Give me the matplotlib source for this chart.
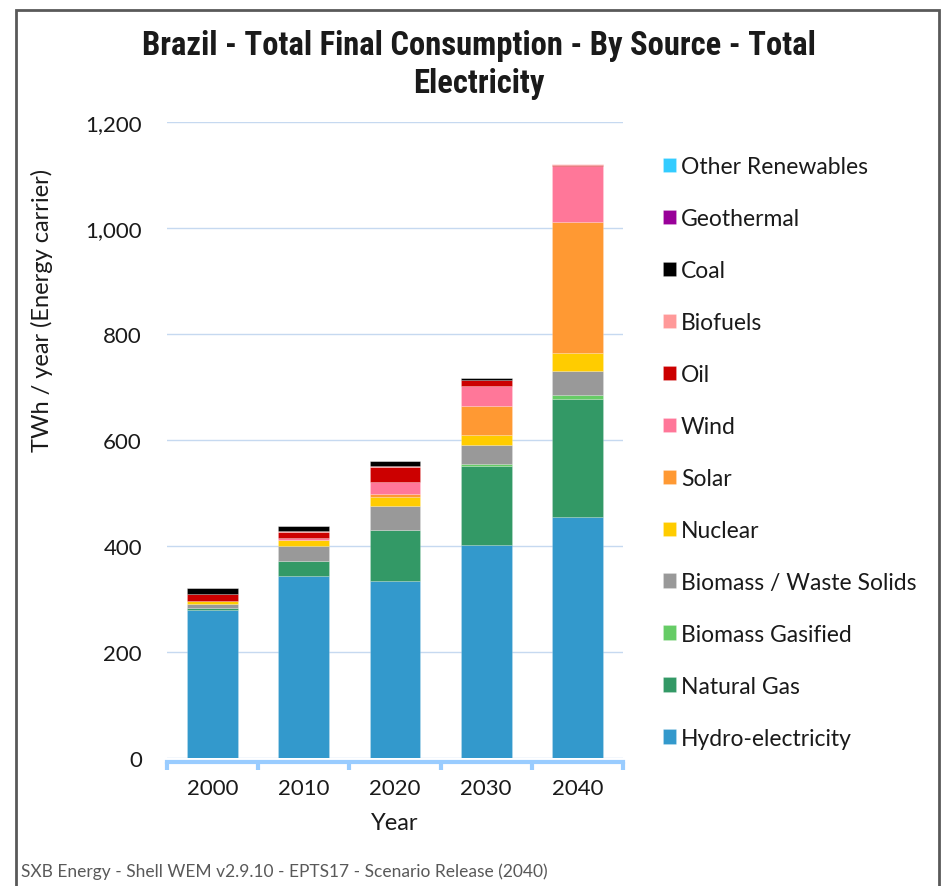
import matplotlib
matplotlib.use('Agg')
import matplotlib.pyplot as plt
from matplotlib.patches import Rectangle
from matplotlib.ticker import FuncFormatter, FixedLocator
import numpy as np

years = ['2000', '2010', '2020', '2030', '2040']

# TWh / year, stacked bottom to top
hydro = [280, 343, 334, 403, 455]
natural_gas = [3, 29, 96, 148, 222]
biomass_gasified = [0.5, 0.5, 1, 4.5, 7.5]
biomass_solids = [7, 27, 45, 35, 46]
nuclear = [6, 12.5, 17, 20, 33]
solar = [0, 0, 4.5, 54.5, 248]
wind = [0, 3, 23, 37.5, 105]
oil = [12.5, 12.5, 29.5, 11, 3]
biofuels = [0.5, 0.5, 0.5, 0.5, 0.5]
coal = [11, 9.5, 11, 4, 0.5]
geothermal = [0, 0, 0, 0, 0]
other_renewables = [0, 0, 0, 0, 0]

series = [
    ('Hydro-electricity', hydro, '#3399cc'),
    ('Natural Gas', natural_gas, '#339966'),
    ('Biomass Gasified', biomass_gasified, '#66cc66'),
    ('Biomass / Waste Solids', biomass_solids, '#999999'),
    ('Nuclear', nuclear, '#ffcc00'),
    ('Solar', solar, '#ff9933'),
    ('Wind', wind, '#ff7799'),
    ('Oil', oil, '#cc0000'),
    ('Biofuels', biofuels, '#ff9999'),
    ('Coal', coal, '#000000'),
    ('Geothermal', geothermal, '#990099'),
    ('Other Renewables', other_renewables, '#33ccff'),
]

plt.rcParams['font.family'] = ['Lato', 'DejaVu Sans']
text_col = '#1a1a1a'

fig = plt.figure(figsize=(9.51, 8.87), dpi=100)
fig.patch.set_facecolor('white')
ax = fig.add_axes([0.1756, 0.1440, 0.4795, 0.7173])

x = np.arange(len(years))
bottom = np.zeros(len(years))
handles = []
for name, vals, col in series:
    vals = np.array(vals, dtype=float)
    b = ax.bar(x, vals, width=0.556, bottom=bottom, color=col,
               edgecolor=(1, 1, 1, 0.25), linewidth=0.5, label=name, zorder=3)
    handles.append(b)
    bottom += vals

ax.set_xlim(-0.5, len(years) - 0.5)
ax.set_ylim(0, 1200)

# gridlines and axis styling
ax.yaxis.set_major_locator(FixedLocator(range(0, 1201, 200)))
ax.yaxis.set_major_formatter(FuncFormatter(lambda v, p: f'{int(v):,}'))
ax.grid(axis='y', color='#c6d9f0', lw=1.0, zorder=0)
for s in ['top', 'right', 'left']:
    ax.spines[s].set_visible(False)
ax.spines['bottom'].set_color('#99ccff')
ax.spines['bottom'].set_linewidth(3)
ax.spines['bottom'].set_position(('outward', 3))

ax.set_xticks(x)
ax.set_xticklabels(years)
ax.set_xticks(np.arange(-0.5, len(years)), minor=True)
ax.tick_params(axis='x', which='major', length=0, pad=11, labelsize=16, labelcolor=text_col)
ax.tick_params(axis='x', which='minor', length=6, width=3, color='#99ccff', direction='out')
ax.tick_params(axis='y', length=0, pad=18, labelsize=16, labelcolor=text_col)

ax.set_xlabel('Year', fontsize=17, color=text_col, labelpad=10)
ax.set_ylabel('TWh / year (Energy carrier)', fontsize=17, color=text_col)
ax.yaxis.set_label_coords(-0.25, 0.705)

# legend, top entry first
leg = ax.legend(handles[::-1], [s[0] for s in series][::-1],
                loc='upper left', bbox_to_anchor=(0.687, 0.833), bbox_transform=fig.transFigure,
                frameon=False, fontsize=16.5, handlelength=0.6, handleheight=0.6,
                handletextpad=0.2, labelspacing=1.35, borderaxespad=0)
for t in leg.get_texts():
    t.set_color(text_col)

fig.text(0.504, 0.927, 'Brazil - Total Final Consumption - By Source - Total\nElectricity',
         ha='center', va='center', fontsize=23.5, fontweight='bold', linespacing=1.25,
         family=['Roboto Condensed', 'Roboto', 'DejaVu Sans'], color=text_col)

fig.text(0.022, 0.017, 'SXB Energy - Shell WEM v2.9.10 - EPTS17 - Scenario Release (2040)',
         ha='left', va='center', fontsize=12.5, color='#595959')

# outer frame
fig.add_artist(Rectangle((16 / 951, -0.05), (939 - 16) / 951, 1.05 - 11 / 887,
                         transform=fig.transFigure, fill=False, edgecolor='#595959', lw=2))

fig.savefig('out.png', dpi=100, facecolor='white')
